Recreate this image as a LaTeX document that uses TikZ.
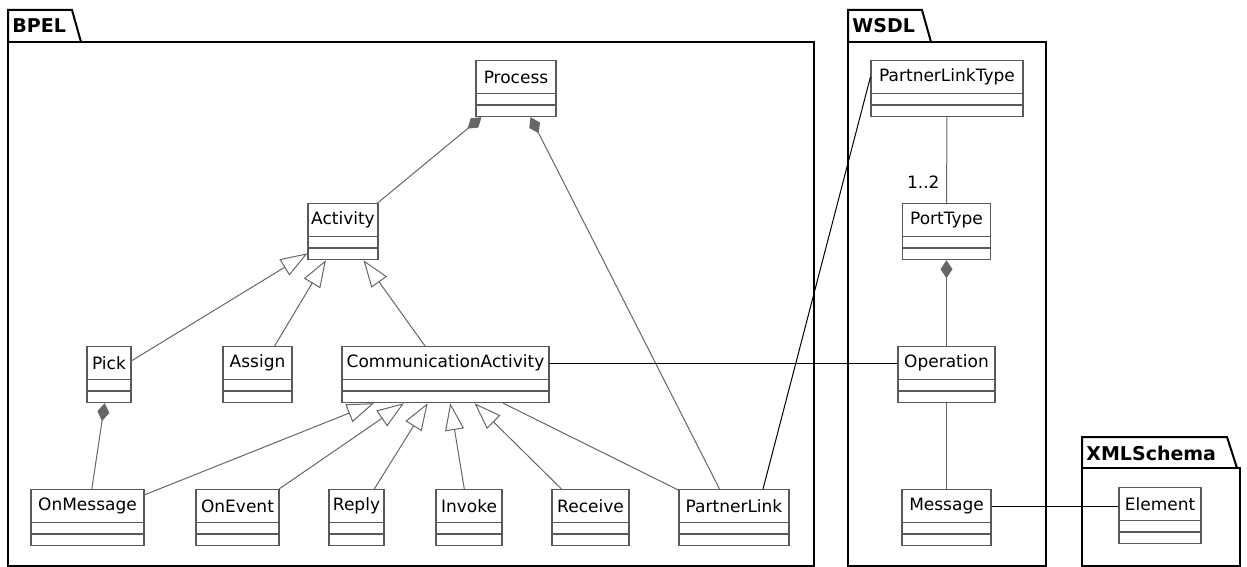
\documentclass[tikz,border=0pt]{standalone}
\usepackage{fontspec}
\setmainfont{DejaVu Sans}
\usepackage{tikz}
\usetikzlibrary{arrows.meta}
\usetikzlibrary{positioning}

% class box: name, x centre, y top, width (px), label
\newcommand{\umlclass}[5]{
  \node[umlbox, minimum width=#4*0.5pt, anchor=north] (#1) at (#2,#3) {};
  \node[umlname, minimum width=#4*0.5pt, anchor=north] (#1-n) at (#1.north) {#5};
  \draw[umlgray] ([yshift=-22.5pt]#1.north west) -- ([yshift=-22.5pt]#1.north east);
}

\begin{document}
\begin{tikzpicture}[x=0.5pt, y=-0.5pt,
  umlgray/.style={draw=black!65, line width=0.6pt},
  umlbox/.style={rectangle, umlgray, fill=white, inner sep=0pt, minimum height=28pt},
  umlname/.style={rectangle, umlgray, inner sep=0pt, minimum height=16.5pt,
    font=\fontsize{8.5}{10}\selectfont},
  umlline/.style={draw=black!60, line width=0.5pt},
  gen/.style={umlline, -{Triangle[open, length=13.5pt, width=9.5pt]}},
  comp/.style={umlline, {Diamond[length=9pt, width=6pt]}-},
  xlink/.style={draw=black, line width=0.5pt},
  pkg/.style={draw=black, line width=1pt},
  pkglbl/.style={anchor=west, inner sep=0pt, font=\fontsize{9.5}{11}\selectfont\bfseries}]
\useasboundingbox (0,0) rectangle (1247,567);

%packages
\draw[pkg] (8,42) -- (8,10) -- (72,10) -- (81,42);
\draw[pkg] (8,42) rectangle (814,566);
\node[pkglbl] (bpel) at (12,26) {BPEL};
\draw[pkg] (848,42) -- (848,10) -- (922,10) -- (931,42);
\draw[pkg] (848,42) rectangle (1046,566);
\node[pkglbl] (wsdl) at (852,26) {WSDL};
\draw[pkg] (1082,468) -- (1082,437) -- (1227,437) -- (1237,468);
\draw[pkg] (1082,468) rectangle (1240,566);
\node[pkglbl] (xsd) at (1086,453) {XMLSchema};

%BPEL classes
\umlclass{process}{516}{60}{80}{Process}
\umlclass{activity}{343}{203}{70}{Activity}
\umlclass{pick}{109}{346}{44}{Pick}
\umlclass{assign}{257.5}{346}{69}{Assign}
\umlclass{comm}{445.5}{346}{207}{CommunicationActivity}
\umlclass{onmsg}{87.5}{489}{113}{OnMessage}
\umlclass{onevent}{237.5}{489}{83}{OnEvent}
\umlclass{reply}{356.5}{489}{55}{Reply}
\umlclass{invoke}{469}{489}{66}{Invoke}
\umlclass{receive}{590.5}{489}{77}{Receive}
\umlclass{plink}{734}{489}{110}{PartnerLink}

%WSDL classes
\umlclass{plt}{947}{60}{152}{PartnerLinkType}
\umlclass{port}{946.5}{203}{88}{PortType}
\umlclass{oper}{946.5}{346}{97}{Operation}
\umlclass{msg}{946.5}{489}{89}{Message}

%XMLSchema classes
\umlclass{elem}{1160}{487}{82}{Element}

%relations
\draw[comp] (process) -- (activity);
\draw[comp] (process) -- (plink);
\draw[gen] (pick) -- (activity);
\draw[gen] (assign) -- (activity);
\draw[gen] (comm) -- (activity);
\draw[comp] (pick) -- (onmsg);
\foreach \c in {onmsg, onevent, reply, invoke, receive}
  \draw[gen] (\c) -- (comm);
\draw[umlline] (comm) -- (plink);
\draw[umlline] (plt) -- node[pos=0.76, left, font=\fontsize{8.5}{10}\selectfont] {1..2} (port);
\draw[comp] (port) -- (oper);
\draw[umlline] (oper) -- (msg);

%links between packages
\draw[xlink] (comm-n.east) -- (comm-n.east -| oper.west);
\draw[xlink] ([xshift=14.5pt]plink.north) -- (plt-n.west);
\draw[xlink] (msg-n.east) -- (msg-n.east -| elem.west);
\end{tikzpicture}
\end{document}
